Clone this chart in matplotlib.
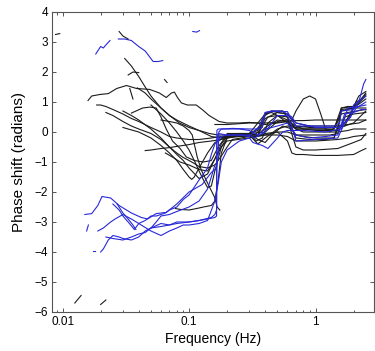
import matplotlib
matplotlib.use("Agg")
import matplotlib.pyplot as plt
from matplotlib.ticker import LogLocator, FixedLocator, NullFormatter

plt.rcParams['font.family'] = ['Liberation Sans', 'DejaVu Sans']

# ---------------- black curves (frequency Hz, phase rad) ----------------
k1_f = [0.0159, 0.017, 0.0197, 0.023, 0.0268, 0.032, 0.0385, 0.0487, 0.0583, 0.066, 0.0726, 0.0766, 0.081, 0.087, 0.097, 0.114, 0.127, 0.144, 0.173, 0.2, 0.25, 0.3, 0.35, 0.4, 0.5, 0.6, 0.65, 0.7, 0.8, 0.9, 1.0, 1.1, 1.2, 1.3, 1.5, 1.8, 2.0, 2.5]
k1_p = [1.05, 1.2, 1.25, 1.28, 1.45, 1.55, 1.45, 1.42, 1.3, 1.15, 1.3, 1.33, 1.15, 0.97, 0.9, 0.9, 0.75, 0.55, 0.35, 0.3, 0.3, 0.32, 0.3, 0.25, 0.3, 0.35, 0.4, 0.7, 1.1, 1.2, 1.1, 0.6, 0.1, 0.0, 0.0, 0.05, 0.1, 0.1]

k2_f = [0.0186, 0.02, 0.022, 0.025, 0.03, 0.035, 0.04, 0.05, 0.06, 0.07, 0.08, 0.1, 0.12, 0.15, 0.18, 0.2, 0.25, 0.3, 0.35, 0.38, 0.42, 0.5, 0.6, 0.7, 0.8, 1.0, 1.5, 2.0, 2.3, 2.5]
k2_p = [0.9, 0.9, 0.85, 0.75, 0.6, 0.45, 0.35, 0.15, 0.0, -0.15, -0.2, -0.25, -0.25, -0.2, -0.15, -0.15, -0.1, -0.1, -0.1, 0.2, 0.5, 0.55, 0.4, -0.5, -0.6, -0.6, -0.55, -0.35, -0.25, -0.05]

k3_f = [0.031, 0.035, 0.04, 0.045, 0.05, 0.06, 0.07, 0.08, 0.1, 0.12, 0.15, 0.18, 0.2, 0.25, 0.3, 0.35, 0.4, 0.45, 0.5, 0.6, 0.7, 1.0, 1.4, 1.6, 2.0, 2.2, 2.5]
k3_p = [2.45, 2.2, 1.85, 1.5, 1.2, 0.8, 0.55, 0.4, 0.2, 0.05, -0.15, -0.2, -0.15, -0.1, -0.05, 0.3, 0.6, 0.65, 0.55, 0.3, 0.1, 0.1, 0.1, 0.8, 0.85, 1.0, 1.3]

k4_f = [0.022, 0.025, 0.03, 0.035, 0.04, 0.05, 0.06, 0.07, 0.08, 0.09, 0.1, 0.12, 0.14, 0.16, 0.18, 0.2, 0.3, 0.4, 0.5, 0.6, 0.65, 0.7, 0.8, 1.0, 1.3, 1.5, 2.0, 2.3, 2.5]
k4_p = [0.65, 0.55, 0.35, 0.2, 0.1, -0.05, -0.25, -0.5, -0.75, -0.95, -1.2, -1.55, -1.4, -0.9, -0.5, -0.3, -0.2, -0.05, 0.0, -0.3, -0.7, -0.75, -0.75, -0.78, -0.78, -0.78, -0.75, -0.62, -0.55]

k5_f = [0.035, 0.039, 0.043, 0.049, 0.055, 0.06, 0.066, 0.074, 0.085, 0.095, 0.11, 0.13, 0.15, 0.17, 0.2, 0.25, 0.3, 0.34, 0.38, 0.42, 0.5, 0.6, 0.65, 0.7, 0.9, 1.2, 1.4, 1.5, 1.8, 2.2, 2.5]
k5_p = [0.63, 0.72, 0.8, 0.83, 0.8, 0.5, 0.1, -0.3, -0.55, -0.83, -0.95, -1.0, -0.95, -0.5, -0.1, -0.05, -0.05, -0.3, -0.2, 0.3, 0.55, 0.5, 0.1, -0.2, -0.25, -0.25, -0.2, 0.2, 0.25, 0.3, 0.4]

k6_f = [0.039, 0.045, 0.05, 0.06, 0.07, 0.084, 0.1, 0.12, 0.145, 0.17, 0.2, 0.25, 0.3, 0.33, 0.36, 0.4, 0.45, 0.55, 0.62, 0.7, 0.8, 1.0, 1.3, 1.45, 1.6, 2.0, 2.5]
k6_p = [1.47, 1.3, 1.1, 0.8, 0.55, 0.3, 0.15, 0.05, -0.05, -0.1, -0.1, -0.08, -0.05, -0.1, 0.05, 0.55, 0.7, 0.7, 0.4, 0.1, 0.0, 0.0, 0.0, 0.2, 0.7, 0.8, 0.8]

k7_f = [0.045, 0.05, 0.06, 0.07, 0.08, 0.1, 0.12, 0.15, 0.18, 0.2, 0.25, 0.3, 0.35, 0.4, 0.5, 0.6, 0.7, 0.8, 1.0, 1.5, 1.8, 2.0, 2.5]
k7_p = [-0.62, -0.6, -0.55, -0.52, -0.48, -0.42, -0.35, -0.3, -0.25, -0.2, -0.15, -0.15, -0.15, -0.1, -0.1, -0.15, -0.3, -0.3, -0.3, -0.25, -0.2, -0.15, -0.1]

k8_f = [0.03, 0.035, 0.04, 0.05, 0.06, 0.07, 0.08, 0.09, 0.1, 0.11, 0.12, 0.14, 0.16, 0.18, 0.2, 0.22, 0.3, 0.4, 0.5, 0.6, 0.7, 1.0, 1.3, 1.5, 1.7, 2.0, 2.5]
k8_p = [0.7, 0.55, 0.4, 0.1, -0.2, -0.5, -0.7, -0.85, -0.95, -1.05, -1.15, -1.2, -1.1, -0.8, -0.5, -0.25, -0.15, -0.1, 0.0, 0.0, -0.1, -0.1, -0.1, -0.05, 0.5, 0.6, 0.65]

k9_f = [0.06, 0.07, 0.08, 0.09, 0.1, 0.106, 0.116, 0.125, 0.145, 0.159, 0.167, 0.175]
k9_p = [0.4, 0.35, 0.3, 0.2, 0.05, -0.1, -0.83, -1.27, -1.83, -2.17, -2.5, -2.6]

k10_f = [0.078, 0.085, 0.1, 0.115, 0.13, 0.15, 0.16, 0.17, 0.18, 0.2, 0.25, 0.3, 0.35, 0.4, 0.5, 0.6, 0.7, 1.0, 1.4, 1.6, 1.8, 2.1, 2.5]
k10_p = [-2.55, -2.58, -2.6, -2.55, -2.5, -2.45, -2.3, -1.6, -0.7, -0.2, -0.1, -0.05, 0.05, 0.45, 0.65, 0.6, 0.3, 0.15, 0.15, 0.6, 0.65, 0.7, 0.75]

k11_f = [0.05, 0.06, 0.07, 0.08, 0.09, 0.1, 0.11, 0.12, 0.13, 0.14, 0.15, 0.16, 0.18, 0.2, 0.25, 0.3, 0.35, 0.4, 0.5, 0.6, 0.7, 0.9, 1.2, 1.5, 1.7, 2.0, 2.5]
k11_p = [0.9, 0.6, 0.3, 0.0, -0.3, -0.6, -0.95, -1.3, -1.6, -1.85, -1.8, -1.3, -0.5, -0.2, -0.1, -0.05, -0.1, 0.15, 0.4, 0.35, 0.2, 0.15, 0.15, 0.15, 0.3, 0.8, 1.1]

k12_f = [0.03, 0.04, 0.05, 0.06, 0.07, 0.08, 0.09, 0.1, 0.105, 0.11, 0.12, 0.14, 0.16, 0.2, 0.3, 0.4, 0.5, 0.6, 0.7, 0.9, 1.2, 1.5, 1.6, 2.0, 2.5]
k12_p = [0.15, 0.0, -0.2, -0.45, -0.7, -0.95, -1.25, -1.5, -1.58, -1.5, -1.2, -0.7, -0.35, -0.15, -0.05, 0.0, 0.35, 0.4, 0.1, 0.1, 0.1, 0.05, 0.75, 0.8, 1.2]

k13_f = [0.16, 0.2, 0.3, 0.4, 0.5, 0.6, 0.7, 0.8, 1.0, 1.3, 1.5, 2.0, 2.5]
k13_p = [0.25, 0.25, 0.3, 0.3, 0.32, 0.35, 0.38, 0.38, 0.4, 0.4, 0.4, 0.4, 0.4]

k14_f = [0.065, 0.075, 0.085, 0.1, 0.12, 0.14, 0.16, 0.18, 0.2, 0.25, 0.3, 0.35, 0.4, 0.45, 0.55, 0.65, 0.7, 0.8, 1.0, 1.4, 1.5, 1.7, 2.0, 2.5]
k14_p = [-0.7, -0.85, -1.0, -1.1, -1.25, -1.3, -0.9, -0.4, -0.15, -0.1, -0.05, -0.25, -0.35, -0.1, 0.2, 0.1, -0.1, -0.15, -0.2, -0.2, 0.15, 0.2, 0.3, 0.7]

k15_f = [0.2, 0.3, 0.35, 0.4, 0.45, 0.5, 0.6, 0.7, 0.8, 1.0, 1.3, 1.5, 1.6, 1.8, 2.0, 2.2, 2.5]
k15_p = [-0.05, -0.05, 0.1, 0.6, 0.7, 0.65, 0.6, 0.2, 0.1, 0.05, 0.05, 0.05, 0.8, 0.85, 0.85, 1.2, 1.35]

k16_f = [0.18, 0.2, 0.25, 0.3, 0.35, 0.4, 0.5, 0.6, 0.7, 0.9, 1.2, 1.5, 1.7, 1.9, 2.1, 2.3, 2.5]
k16_p = [-0.2, -0.15, -0.15, -0.1, -0.4, -0.2, 0.1, 0.2, 0.15, 0.2, 0.2, 0.2, 0.2, 0.6, 1.0, 1.1, 1.25]

# short black fragments
s1_f, s1_p = [0.0088, 0.0095], [3.25, 3.28]
s2_f, s2_p = [0.028, 0.03, 0.033], [3.35, 3.2, 3.1]
s3_f, s3_p = [0.033, 0.036, 0.04], [1.9, 2.0, 1.98]
s4_f, s4_p = [0.064, 0.067], [1.75, 1.65]
s5_f, s5_p = [0.034, 0.036], [1.45, 1.1]
s6_f, s6_p = [0.0125, 0.014], [-5.7, -5.45]
s7_f, s7_p = [0.02, 0.022], [-5.75, -5.6]

# ---------------- blue curves ----------------
b1_f, b1_p = [0.0183, 0.02, 0.021, 0.022, 0.0237], [2.6, 2.85, 2.8, 2.9, 3.05]
b2_f = [0.0276, 0.031, 0.035, 0.04, 0.045, 0.052, 0.057, 0.062]
b2_p = [3.1, 3.1, 3.05, 2.85, 2.7, 2.35, 2.35, 2.38]
b3_f, b3_p = [0.107, 0.115, 0.121], [3.35, 3.33, 3.38]

bl1_f = [0.015, 0.017, 0.019, 0.0205, 0.024, 0.028, 0.035, 0.042, 0.047, 0.055, 0.066, 0.08, 0.1, 0.127, 0.15, 0.165, 0.17, 0.172, 0.18, 0.22, 0.3, 0.35, 0.38, 0.4, 0.45, 0.6, 0.65, 0.7, 1.0, 1.4, 1.55, 1.6, 2.0, 2.2, 2.4, 2.5]
bl1_p = [-2.75, -2.72, -2.45, -2.15, -2.2, -2.45, -2.7, -2.85, -2.9, -2.72, -2.68, -2.4, -2.0, -1.75, -1.35, -1.2, -0.8, 0.0, 0.1, 0.12, 0.1, 0.1, 0.15, 0.65, 0.68, 0.68, 0.4, 0.2, 0.2, 0.2, 0.3, 0.7, 0.75, 1.0, 1.6, 1.75]

bl2_f = [0.02, 0.021, 0.023, 0.025, 0.028, 0.03, 0.035, 0.04, 0.045, 0.05, 0.06, 0.07, 0.08, 0.1, 0.12, 0.15, 0.16, 0.165, 0.166, 0.17, 0.2, 0.3, 0.33, 0.36, 0.4, 0.5, 0.6, 0.65, 0.7, 1.0, 1.5, 1.7, 1.9, 2.0, 2.5]
bl2_p = [-4.0, -3.9, -3.6, -3.45, -3.5, -3.55, -3.6, -3.5, -3.3, -3.2, -3.05, -3.1, -3.05, -3.0, -2.95, -2.85, -2.75, -2.6, -0.3, -0.05, -0.1, -0.1, -0.2, -0.1, 0.0, 0.55, 0.55, 0.2, -0.3, -0.25, -0.2, 0.3, 0.5, 0.9, 1.2]

bl3_f = [0.019, 0.021, 0.024, 0.026, 0.03, 0.035, 0.04, 0.05, 0.06, 0.07, 0.08, 0.09, 0.1, 0.12, 0.14, 0.16, 0.17, 0.18, 0.2, 0.25, 0.3, 0.32, 0.38, 0.42, 0.5, 0.55, 0.6, 0.8, 1.2, 1.6, 1.8, 2.2, 2.5]
bl3_p = [-3.3, -3.2, -3.0, -2.9, -2.75, -2.9, -3.05, -3.3, -3.45, -3.3, -3.2, -3.1, -3.1, -3.05, -2.95, -2.3, -1.7, -1.0, -0.6, -0.3, -0.2, -0.35, -0.45, -0.55, -0.2, 0.0, 0.05, 0.05, 0.0, 0.1, 0.8, 0.85, 0.9]

bl4_f = [0.025, 0.028, 0.03, 0.033, 0.037, 0.04, 0.045, 0.05, 0.055, 0.06, 0.065, 0.07, 0.08, 0.09, 0.1, 0.12, 0.14, 0.15, 0.16, 0.17, 0.18, 0.2, 0.25, 0.3, 0.36, 0.4, 0.45, 0.55, 0.65, 0.7, 0.8, 1.0, 1.3, 1.5, 1.8, 2.1, 2.5]
bl4_p = [-2.4, -2.6, -2.8, -3.0, -3.25, -3.05, -2.95, -2.8, -2.8, -2.75, -2.7, -2.6, -2.5, -2.25, -2.1, -1.6, -1.2, -0.75, -0.4, -0.3, -0.15, -0.1, -0.1, -0.15, 0.2, 0.65, 0.7, 0.7, 0.5, 0.3, 0.25, 0.15, 0.15, 0.15, 0.4, 0.8, 1.0]

bl5_f = [0.022, 0.025, 0.03, 0.035, 0.04, 0.045, 0.05, 0.06, 0.07, 0.08, 0.1, 0.12, 0.14, 0.16, 0.165, 0.166, 0.17, 0.2, 0.25, 0.3, 0.35, 0.4, 0.45, 0.5, 0.6, 0.7, 0.9, 1.2, 1.5, 1.7, 2.0, 2.3, 2.5]
bl5_p = [-3.5, -3.55, -3.6, -3.5, -3.4, -3.35, -3.2, -3.15, -3.1, -3.0, -3.0, -2.95, -2.9, -2.85, -2.8, 0.05, 0.1, 0.1, 0.1, 0.05, -0.1, 0.1, 0.15, 0.2, 0.3, -0.1, -0.2, -0.15, -0.1, 0.6, 0.65, 0.75, 0.75]

bl6_f, bl6_p = [0.027, 0.03, 0.033, 0.036, 0.038], [-2.4, -2.7, -2.9, -3.1, -3.25]
bl7_f = [0.05, 0.055, 0.06, 0.07, 0.08, 0.1, 0.12, 0.14, 0.15, 0.16]
bl7_p = [-3.2, -3.0, -2.8, -2.75, -2.65, -2.5, -2.3, -1.9, -1.5, -1.1]
bt1_f, bt1_p = [0.0155, 0.016], [-3.3, -3.1]
bt2_f, bt2_p = [0.0175, 0.0182], [-3.95, -3.95]

black_curves = [(k1_f, k1_p), (k2_f, k2_p), (k3_f, k3_p), (k4_f, k4_p), (k5_f, k5_p),
                (k6_f, k6_p), (k7_f, k7_p), (k8_f, k8_p), (k9_f, k9_p), (k10_f, k10_p),
                (k11_f, k11_p), (k12_f, k12_p), (k13_f, k13_p), (k14_f, k14_p),
                (k15_f, k15_p), (k16_f, k16_p),
                (s1_f, s1_p), (s2_f, s2_p), (s3_f, s3_p), (s4_f, s4_p), (s5_f, s5_p),
                (s6_f, s6_p), (s7_f, s7_p)]
blue_curves = [(b1_f, b1_p), (b2_f, b2_p), (b3_f, b3_p), (bl1_f, bl1_p), (bl2_f, bl2_p),
               (bl3_f, bl3_p), (bl4_f, bl4_p), (bl5_f, bl5_p), (bl6_f, bl6_p),
               (bl7_f, bl7_p), (bt1_f, bt1_p), (bt2_f, bt2_p)]

x_ticks = [0.01, 0.1, 1]
x_ticklabels = ['0.01', '0.1', '1']
y_ticks = [-6, -5, -4, -3, -2, -1, 0, 1, 2, 3, 4]

fig = plt.figure(figsize=(3.75, 3.51), dpi=100)
ax = fig.add_axes([52/375, 39/351, 322/375, 300/351])

for f, p in black_curves:
    ax.plot(f, p, color='#1c1c1c', lw=0.8)
for f, p in blue_curves:
    ax.plot(f, p, color='#2828d8', lw=0.8)

ax.set_xscale('log')
ax.set_xlim(0.00825, 2.9)
ax.set_ylim(-6, 4)
ax.xaxis.set_major_locator(FixedLocator(x_ticks))
ax.set_xticklabels(x_ticklabels)
ax.xaxis.set_minor_locator(LogLocator(base=10, subs=range(2, 10)))
ax.xaxis.set_minor_formatter(NullFormatter())
ax.set_yticks(y_ticks)
ax.set_yticklabels(['\u22126', '\u22125', '\u22124', '\u22123', '\u22122', '\u22121', '0', '1', '2', '3', '4'])

ax.tick_params(which='both', direction='in', top=True, right=True, labelsize=8.5, colors='#555555', labelcolor='black', width=0.7)
ax.tick_params(which='major', length=3, pad=3)
ax.tick_params(which='minor', length=1.8)
for s in ax.spines.values():
    s.set_color('#555555')
    s.set_linewidth(0.8)

ax.set_xlabel('Frequency (Hz)', fontsize=10, labelpad=3)
ax.set_ylabel('Phase shift (radians)', fontsize=11, labelpad=6)

fig.savefig('out.png', dpi=100)
